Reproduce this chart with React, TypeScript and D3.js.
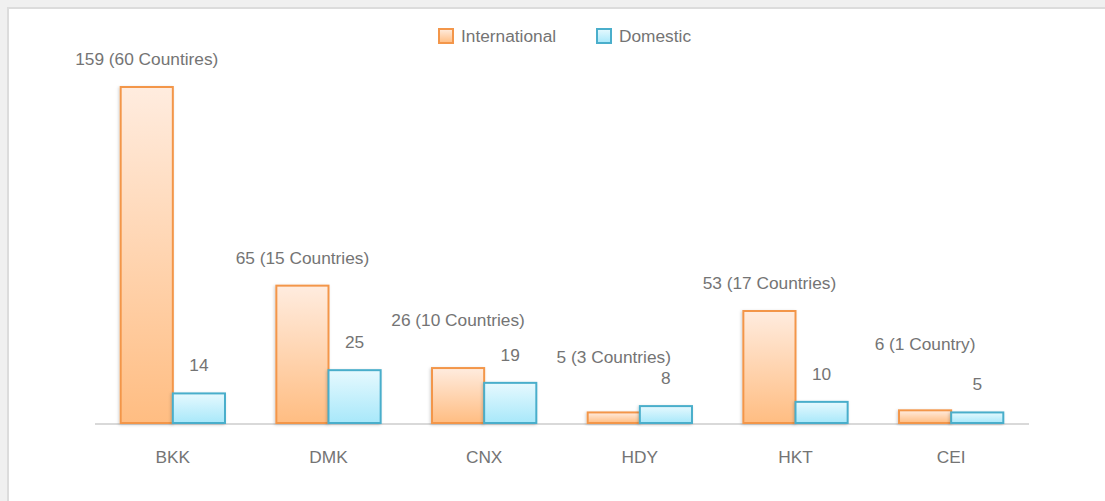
import React, { useEffect, useRef } from "react";
import * as d3 from "d3";

const airports = ["BKK", "DMK", "CNX", "HDY", "HKT", "CEI"];
const international = [159, 65, 26, 5, 53, 6];
const domestic = [14, 25, 19, 8, 10, 5];
const intlLabels = [
  "159 (60 Countires)",
  "65 (15 Countries)",
  "26 (10 Countries)",
  "5 (3 Countries)",
  "53 (17 Countries)",
  "6 (1 Country)",
];
const seriesNames = ["International", "Domestic"];

// extra lift for labels that would collide with their neighbour
const labelLift = [0, 0, 20, 27, 0, 38];

export default function App() {
  const svgRef = useRef<SVGSVGElement>(null);

  useEffect(() => {
    const width = 1105;
    const height = 501;
    const svg = d3.select(svgRef.current);
    svg.selectAll("*").remove();
    svg.attr("width", width).attr("height", height);

    const font = "'Liberation Sans', Arial, sans-serif";
    const fontSize = 17.3;
    const textColor = "#747474";

    // background + panel
    svg.append("rect").attr("width", width).attr("height", height).attr("fill", "#f0f0f0");
    svg
      .append("rect")
      .attr("x", 8)
      .attr("y", 8)
      .attr("width", width)
      .attr("height", height)
      .attr("fill", "#fff")
      .attr("stroke", "#dcdcdc")
      .attr("stroke-width", 2);

    const defs = svg.append("defs");
    const grad = (id: string, top: string, bottom: string) => {
      const g = defs.append("linearGradient").attr("id", id).attr("x1", 0).attr("y1", 0).attr("x2", 0).attr("y2", 1);
      g.append("stop").attr("offset", "0%").attr("stop-color", top);
      g.append("stop").attr("offset", "100%").attr("stop-color", bottom);
    };
    grad("gIntl", "#ffecdf", "#ffbd82");
    grad("gDom", "#e6f9fe", "#a8e8fa");
    const f = defs
      .append("filter")
      .attr("id", "shadow")
      .attr("x", "-20%")
      .attr("y", "-20%")
      .attr("width", "140%")
      .attr("height", "140%");
    f.append("feDropShadow")
      .attr("dx", -1)
      .attr("dy", 1)
      .attr("stdDeviation", 1.5)
      .attr("flood-color", "#000")
      .attr("flood-opacity", 0.18);

    const fills = ["url(#gIntl)", "url(#gDom)"];
    const strokes = ["#f3964a", "#4aaecb"];

    const x = d3.scaleBand().domain(airports).range([95, 1029]).paddingInner(0.33).paddingOuter(0.165);
    const y = d3.scaleLinear().domain([0, 159]).range([423, 87]);
    const x1 = d3.scaleBand().domain(seriesNames).range([0, x.bandwidth()]);

    // baseline
    svg
      .append("line")
      .attr("x1", 95)
      .attr("x2", 1029)
      .attr("y1", y(0) + 1)
      .attr("y2", y(0) + 1)
      .attr("stroke", "#d9d9d9")
      .attr("stroke-width", 2);

    const series = [international, domestic];
    series.forEach((vals, si) => {
      svg
        .append("g")
        .selectAll("rect")
        .data(airports)
        .join("rect")
        .attr("x", (d) => (x(d) as number) + (x1(seriesNames[si]) as number))
        .attr("y", (d, i) => y(vals[i]))
        .attr("width", x1.bandwidth())
        .attr("height", (d, i) => y(0) - y(vals[i]))
        .attr("fill", fills[si])
        .attr("stroke", strokes[si])
        .attr("stroke-width", 2)
        .attr("filter", "url(#shadow)");
    });

    // value labels
    const labels = svg
      .append("g")
      .attr("font-family", font)
      .attr("font-size", fontSize)
      .attr("fill", textColor)
      .attr("text-anchor", "middle");
    airports.forEach((a, i) => {
      labels
        .append("text")
        .attr("x", (x(a) as number) + (x1("International") as number) + x1.bandwidth() / 2)
        .attr("y", y(international[i]) - 22 - labelLift[i])
        .text(intlLabels[i]);
      labels
        .append("text")
        .attr("x", (x(a) as number) + (x1("Domestic") as number) + x1.bandwidth() / 2)
        .attr("y", y(domestic[i]) - 22)
        .text(String(domestic[i]));
    });

    // axis labels
    svg
      .append("g")
      .selectAll("text")
      .data(airports)
      .join("text")
      .attr("x", (d) => (x(d) as number) + x.bandwidth() / 2)
      .attr("y", 463)
      .attr("text-anchor", "middle")
      .attr("font-family", font)
      .attr("font-size", fontSize)
      .attr("fill", textColor)
      .text((d) => d);

    // legend
    const legendX = [438, 596];
    seriesNames.forEach((s, i) => {
      svg
        .append("rect")
        .attr("x", legendX[i] + 1)
        .attr("y", 29)
        .attr("width", 14)
        .attr("height", 14)
        .attr("fill", fills[i])
        .attr("stroke", strokes[i])
        .attr("stroke-width", 2);
      svg
        .append("text")
        .attr("x", legendX[i] + 23)
        .attr("y", 42)
        .attr("font-family", font)
        .attr("font-size", fontSize)
        .attr("fill", textColor)
        .text(s);
    });
  }, []);

  return (
    <div style={{ position: "fixed", left: 0, top: 0 }}>
      <svg ref={svgRef} style={{ display: "block" }}></svg>
    </div>
  );
}
